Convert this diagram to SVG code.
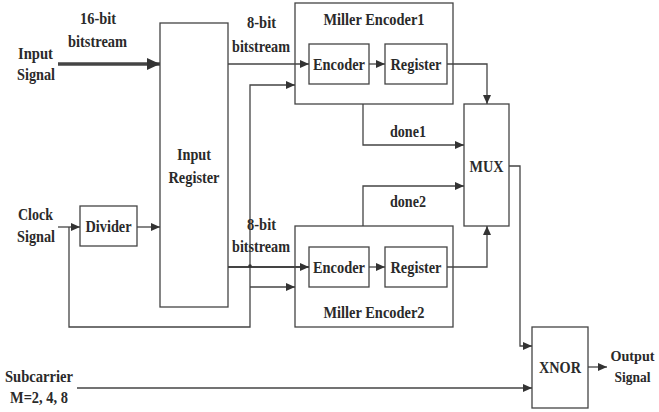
<svg xmlns="http://www.w3.org/2000/svg" width="659" height="412" viewBox="0 0 659 412">
<defs>
<style>
.b{fill:#fff;stroke:#444;stroke-width:1.3}
.t{font-family:"Liberation Serif","Times New Roman",serif;font-weight:bold;font-size:17px;fill:#2a2a2a;text-anchor:middle}
.s{font-size:15.5px}
.c{fill:none;stroke:#444;stroke-width:1.3}
</style>
<marker id="a" markerUnits="userSpaceOnUse" markerWidth="10" markerHeight="8" refX="9" refY="4" orient="auto"><path d="M0,0L9,4L0,8Z" fill="#333"/></marker>
<marker id="A" markerUnits="userSpaceOnUse" markerWidth="14" markerHeight="12" refX="13" refY="6" orient="auto"><path d="M0,0L13,6L0,12Z" fill="#333"/></marker>
</defs>
<rect width="659" height="412" fill="#fff"/>
<g id="input-register"><rect class="b" x="160" y="23" width="68" height="284"/><text class="t" x="194" y="160" textLength="34" lengthAdjust="spacingAndGlyphs">Input</text><text class="t" x="194" y="183" textLength="51" lengthAdjust="spacingAndGlyphs">Register</text></g>
<g id="divider"><rect class="b" x="80" y="206" width="57" height="40"/><text class="t" x="108.5" y="232" textLength="46" lengthAdjust="spacingAndGlyphs">Divider</text></g>
<g id="miller-encoder1"><rect class="b" x="295" y="3" width="158" height="101"/><text class="t" x="374" y="25" textLength="101" lengthAdjust="spacingAndGlyphs">Miller Encoder1</text></g>
<g id="encoder1"><rect class="b" x="309" y="44" width="60" height="40"/><text class="t" x="339" y="70" textLength="52" lengthAdjust="spacingAndGlyphs">Encoder</text></g>
<g id="register1"><rect class="b" x="385" y="44" width="62" height="40"/><text class="t" x="416" y="70" textLength="51" lengthAdjust="spacingAndGlyphs">Register</text></g>
<g id="miller-encoder2"><rect class="b" x="295" y="226" width="158" height="101"/><text class="t" x="374" y="318" textLength="101" lengthAdjust="spacingAndGlyphs">Miller Encoder2</text></g>
<g id="encoder2"><rect class="b" x="309" y="247" width="60" height="40"/><text class="t" x="339" y="273" textLength="52" lengthAdjust="spacingAndGlyphs">Encoder</text></g>
<g id="register2"><rect class="b" x="385" y="247" width="62" height="40"/><text class="t" x="416" y="273" textLength="51" lengthAdjust="spacingAndGlyphs">Register</text></g>
<g id="mux"><rect class="b" x="464" y="104" width="45" height="122"/><text class="t" x="486.5" y="172" textLength="34" lengthAdjust="spacingAndGlyphs">MUX</text></g>
<g id="xnor"><rect class="b" x="532" y="327" width="56" height="81"/><text class="t" x="560" y="373" textLength="42" lengthAdjust="spacingAndGlyphs">XNOR</text></g>
<g id="connectors">
<path class="c" d="M58,64H160" style="stroke-width:3.5" marker-end="url(#A)"/>
<path class="c" d="M228,64H309" marker-end="url(#a)"/>
<path class="c" d="M228,267H309" style="stroke-width:2.2" marker-end="url(#a)"/>
<path class="c" d="M58,227H80" marker-end="url(#a)"/>
<path class="c" d="M137,227H160" marker-end="url(#a)"/>
<path class="c" d="M69,227V327H250V85H295" marker-end="url(#a)"/>
<path class="c" d="M250,287H295" marker-end="url(#a)"/>
<circle cx="250" cy="266" r="1.8" fill="#333"/>
<path class="c" d="M369,64H385" marker-end="url(#a)"/>
<path class="c" d="M369,267H385" marker-end="url(#a)"/>
<path class="c" d="M447,64H487V104" marker-end="url(#a)"/>
<path class="c" d="M447,267H487V226" marker-end="url(#a)"/>
<path class="c" d="M363,104V145H464" marker-end="url(#a)"/>
<path class="c" d="M363,226V186H464" marker-end="url(#a)"/>
<path class="c" d="M509,166H520V346H532" marker-end="url(#a)"/>
<path class="c" d="M77,388H532" marker-end="url(#a)"/>
<path class="c" d="M588,367H607" marker-end="url(#a)"/>
</g>
<g id="labels">
<text class="t" x="35.5" y="59" textLength="35" lengthAdjust="spacingAndGlyphs">Input</text>
<text class="t" x="36" y="80" textLength="38" lengthAdjust="spacingAndGlyphs">Signal</text>
<text class="t" x="98" y="24" textLength="36" lengthAdjust="spacingAndGlyphs">16-bit</text>
<text class="t" x="97.5" y="47" textLength="59" lengthAdjust="spacingAndGlyphs">bitstream</text>
<text class="t" x="261.5" y="28" textLength="29" lengthAdjust="spacingAndGlyphs">8-bit</text>
<text class="t" x="261" y="52" textLength="58" lengthAdjust="spacingAndGlyphs">bitstream</text>
<text class="t" x="261.5" y="230" textLength="29" lengthAdjust="spacingAndGlyphs">8-bit</text>
<text class="t" x="261" y="252" textLength="58" lengthAdjust="spacingAndGlyphs">bitstream</text>
<text class="t" x="35.5" y="220" textLength="35" lengthAdjust="spacingAndGlyphs">Clock</text>
<text class="t" x="36" y="242" textLength="38" lengthAdjust="spacingAndGlyphs">Signal</text>
<text class="t" x="408" y="137" textLength="36" lengthAdjust="spacingAndGlyphs">done1</text>
<text class="t" x="408" y="207" textLength="36" lengthAdjust="spacingAndGlyphs">done2</text>
<text class="t" x="39" y="382" textLength="68" lengthAdjust="spacingAndGlyphs">Subcarrier</text>
<text class="t" x="39" y="403" textLength="58" lengthAdjust="spacingAndGlyphs">M=2, 4, 8</text>
<text class="t s" x="632.5" y="361" textLength="44" lengthAdjust="spacingAndGlyphs">Output</text>
<text class="t s" x="632.5" y="382" textLength="36" lengthAdjust="spacingAndGlyphs">Signal</text>
</g>
</svg>
